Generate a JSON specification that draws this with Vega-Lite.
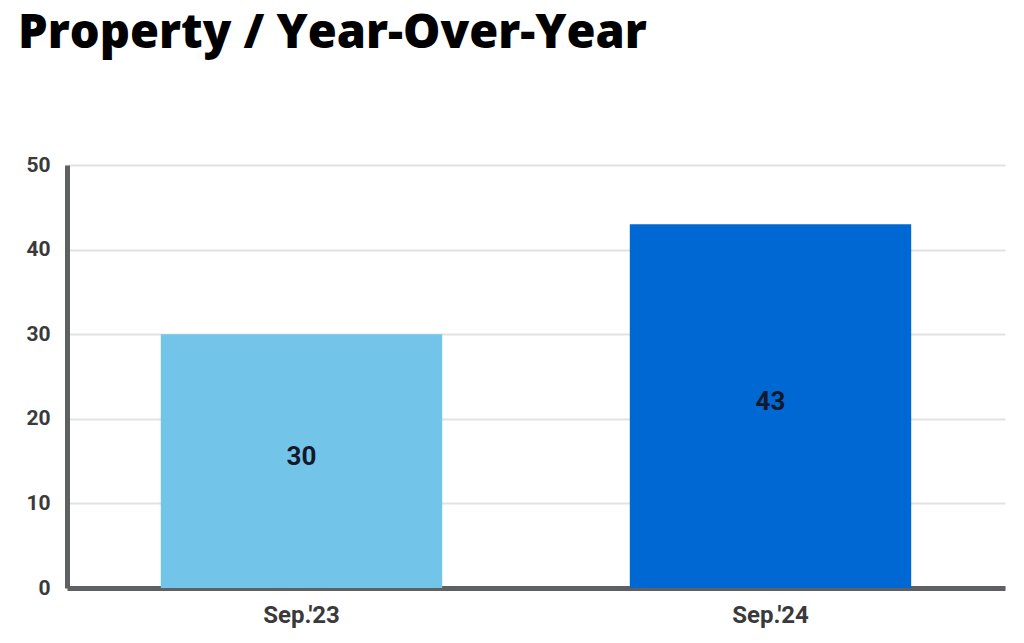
{
  "$schema": "https://vega.github.io/schema/vega-lite/v6.json",
  "autosize": "none",
  "width": 938,
  "height": 423,
  "padding": {"left": 67, "top": 165, "right": 19, "bottom": 55},
  "background": "white",
  "title": {
    "text": "Property / Year-Over-Year",
    "anchor": "start",
    "frame": "group",
    "dx": -49,
    "offset": 96,
    "font": "Open Sans",
    "fontSize": 47,
    "fontWeight": 800,
    "color": "#000000"
  },
  "data": {
    "values": [
      {"period": "Sep.'23", "value": 30},
      {"period": "Sep.'24", "value": 43}
    ]
  },
  "config": {
    "view": {"stroke": null},
    "axis": {
      "labelFont": "Roboto",
      "labelFontWeight": "bold",
      "labelColor": "#3a3a3c",
      "domainColor": "#5f6063",
      "domainWidth": 5,
      "ticks": false,
      "gridColor": "#e2e2e2",
      "gridWidth": 2
    }
  },
  "encoding": {
    "x": {
      "field": "period",
      "type": "nominal",
      "scale": {"paddingInner": 0.4, "paddingOuter": 0.2},
      "axis": {"title": null, "labelAngle": 0, "labelFontSize": 24, "labelPadding": 15, "grid": false}
    }
  },
  "layer": [
    {
      "mark": {"type": "bar"},
      "encoding": {
        "y": {
          "field": "value",
          "type": "quantitative",
          "scale": {"domain": [0, 50]},
          "axis": {"title": null, "values": [0, 10, 20, 30, 40, 50], "labelFontSize": 21, "labelPadding": 17, "grid": true}
        },
        "color": {
          "field": "period",
          "type": "nominal",
          "scale": {"range": ["#72c4e8", "#0068d3"]},
          "legend": null
        }
      }
    },
    {
      "transform": [{"calculate": "datum.value / 2", "as": "labelPos"}],
      "mark": {"type": "text", "font": "Roboto", "fontSize": 26, "fontWeight": "bold", "color": "#14182a", "baseline": "middle", "dy": -4},
      "encoding": {
        "y": {"field": "labelPos", "type": "quantitative"},
        "text": {"field": "value", "type": "quantitative"}
      }
    }
  ]
}
